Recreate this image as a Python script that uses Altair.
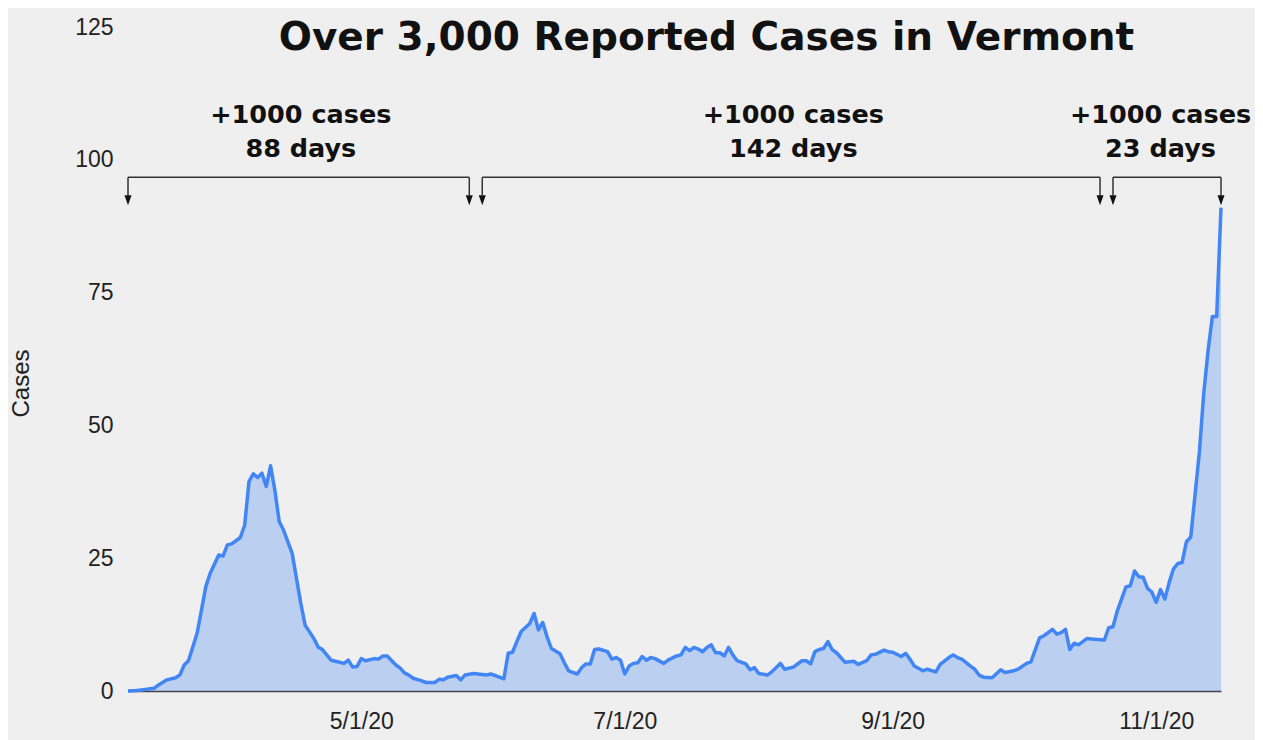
import altair as alt
import pandas as pd

# ---- data (daily reported cases, Vermont 2020) ----
dates = [
    "2020-03-08", "2020-03-10", "2020-03-12", "2020-03-14", "2020-03-15", "2020-03-17",
    "2020-03-19", "2020-03-20", "2020-03-21", "2020-03-22", "2020-03-23", "2020-03-24",
    "2020-03-25", "2020-03-26", "2020-03-27", "2020-03-29", "2020-03-30", "2020-03-31",
    "2020-04-01", "2020-04-03", "2020-04-04", "2020-04-05", "2020-04-06", "2020-04-07",
    "2020-04-08", "2020-04-09", "2020-04-10", "2020-04-11", "2020-04-12", "2020-04-13",
    "2020-04-15", "2020-04-16", "2020-04-17", "2020-04-18", "2020-04-20", "2020-04-21",
    "2020-04-22", "2020-04-24", "2020-04-26", "2020-04-27", "2020-04-28", "2020-04-29",
    "2020-04-30", "2020-05-01", "2020-05-02", "2020-05-04", "2020-05-05", "2020-05-06",
    "2020-05-07", "2020-05-09", "2020-05-10", "2020-05-11", "2020-05-12", "2020-05-13",
    "2020-05-15", "2020-05-16", "2020-05-18", "2020-05-19", "2020-05-20", "2020-05-21",
    "2020-05-23", "2020-05-24", "2020-05-25", "2020-05-27", "2020-05-28", "2020-05-30",
    "2020-05-31", "2020-06-02", "2020-06-03", "2020-06-04", "2020-06-05", "2020-06-06",
    "2020-06-07", "2020-06-09", "2020-06-10", "2020-06-11", "2020-06-12", "2020-06-13",
    "2020-06-14", "2020-06-16", "2020-06-17", "2020-06-18", "2020-06-20", "2020-06-21",
    "2020-06-22", "2020-06-23", "2020-06-24", "2020-06-25", "2020-06-27", "2020-06-28",
    "2020-06-29", "2020-06-30", "2020-07-01", "2020-07-02", "2020-07-03", "2020-07-04",
    "2020-07-05", "2020-07-06", "2020-07-07", "2020-07-08", "2020-07-10", "2020-07-11",
    "2020-07-13", "2020-07-14", "2020-07-15", "2020-07-16", "2020-07-17", "2020-07-18",
    "2020-07-19", "2020-07-20", "2020-07-21", "2020-07-22", "2020-07-23", "2020-07-24",
    "2020-07-25", "2020-07-26", "2020-07-27", "2020-07-29", "2020-07-30", "2020-07-31",
    "2020-08-01", "2020-08-03", "2020-08-04", "2020-08-06", "2020-08-07", "2020-08-09",
    "2020-08-11", "2020-08-12", "2020-08-13", "2020-08-14", "2020-08-15", "2020-08-16",
    "2020-08-17", "2020-08-18", "2020-08-19", "2020-08-21", "2020-08-23", "2020-08-24",
    "2020-08-26", "2020-08-27", "2020-08-28", "2020-08-30", "2020-08-31", "2020-09-01",
    "2020-09-03", "2020-09-04", "2020-09-05", "2020-09-06", "2020-09-08", "2020-09-09",
    "2020-09-11", "2020-09-12", "2020-09-14", "2020-09-15", "2020-09-16", "2020-09-17",
    "2020-09-19", "2020-09-20", "2020-09-21", "2020-09-22", "2020-09-24", "2020-09-26",
    "2020-09-27", "2020-09-29", "2020-09-30", "2020-10-02", "2020-10-03", "2020-10-05",
    "2020-10-06", "2020-10-08", "2020-10-09", "2020-10-10", "2020-10-11", "2020-10-12",
    "2020-10-13", "2020-10-14", "2020-10-16", "2020-10-17", "2020-10-20", "2020-10-21",
    "2020-10-22", "2020-10-23", "2020-10-25", "2020-10-26", "2020-10-27", "2020-10-28",
    "2020-10-29", "2020-10-30", "2020-10-31", "2020-11-01", "2020-11-02", "2020-11-03",
    "2020-11-04", "2020-11-05", "2020-11-06", "2020-11-07", "2020-11-08", "2020-11-09",
    "2020-11-10", "2020-11-11", "2020-11-12", "2020-11-13", "2020-11-14", "2020-11-15",
    "2020-11-16",
]
cases = [
    0.0, 0.1, 0.3, 0.5, 1.1, 2.1,
    2.5, 3.0, 4.9, 5.7, 8.3, 10.9,
    15.2, 19.6, 22.1, 25.6, 25.4, 27.5,
    27.7, 28.9, 31.2, 39.4, 40.9, 40.2,
    41.0, 38.5, 42.4, 37.8, 31.9, 30.3,
    25.9, 21.2, 16.5, 12.4, 9.9, 8.3,
    7.8, 5.8, 5.4, 5.2, 5.8, 4.5,
    4.6, 6.1, 5.7, 6.1, 6.0, 6.6,
    6.6, 4.9, 4.3, 3.4, 3.0, 2.4,
    1.9, 1.6, 1.6, 2.2, 2.1, 2.6,
    2.9, 2.1, 3.0, 3.3, 3.2, 3.0,
    3.2, 2.6, 2.3, 7.1, 7.3, 9.3,
    11.2, 12.7, 14.6, 11.5, 12.9, 10.2,
    8.0, 7.0, 5.3, 3.8, 3.2, 4.4,
    5.1, 5.1, 7.8, 7.9, 7.4, 6.0,
    6.3, 5.8, 3.2, 4.7, 5.2, 5.3,
    6.5, 5.8, 6.3, 6.1, 5.2, 5.8,
    6.6, 6.8, 8.2, 7.6, 8.2, 7.9,
    7.4, 8.2, 8.7, 7.2, 7.2, 6.6,
    8.2, 6.8, 5.7, 5.1, 4.0, 4.4,
    3.3, 3.0, 3.6, 5.2, 4.1, 4.5,
    5.7, 5.7, 5.1, 7.4, 7.8, 8.0,
    9.3, 7.8, 7.2, 5.4, 5.6, 5.0,
    5.7, 6.8, 6.9, 7.7, 7.4, 7.3,
    6.5, 7.1, 6.0, 4.7, 3.8, 4.1,
    3.6, 5.0, 6.3, 6.8, 6.3, 6.0,
    4.7, 4.1, 3.0, 2.6, 2.5, 4.0,
    3.5, 3.8, 4.1, 5.2, 5.5, 10.0,
    10.4, 11.6, 10.7, 11.0, 11.6, 7.8,
    9.0, 8.7, 9.9, 9.8, 9.6, 11.9,
    12.1, 15.1, 19.6, 19.8, 22.6, 21.5,
    21.4, 19.3, 18.6, 16.7, 19.1, 17.3,
    20.4, 23.0, 24.0, 24.2, 28.1, 29.0,
    37.0, 45.0, 56.0, 64.0, 70.5, 70.5,
    91.0,
]

x_tick_dates = ["2020-05-01", "2020-07-01", "2020-09-01", "2020-11-01"]
y_ticks = [0, 25, 50, 75, 100, 125]

# annotation brackets: "+1000 cases" spans
bracket_starts = ["2020-03-08", "2020-05-29", "2020-10-22"]
bracket_ends = ["2020-05-26", "2020-10-19", "2020-11-16"]
arrow_dates = ["2020-03-08", "2020-05-26", "2020-05-29", "2020-10-19", "2020-10-22", "2020-11-16"]
label_dates = ["2020-04-17", "2020-08-09", "2020-11-02"]
label_texts = ["+1000 cases\n88 days", "+1000 cases\n142 days", "+1000 cases\n23 days"]

BRACKET_Y = 96.7
STEM_END_Y = 93.3
ARROW_Y = 92.4
LABEL_Y = 106.9

df = pd.DataFrame({"date": dates, "cases": cases})
brackets = pd.DataFrame({"start": bracket_starts, "end": bracket_ends, "y": [BRACKET_Y] * 3})
arrows = pd.DataFrame({"date": arrow_dates, "y": [BRACKET_Y] * 6, "y2": [STEM_END_Y] * 6,
                       "tip": [ARROW_Y] * 6})
labels = pd.DataFrame({"date": label_dates, "text": label_texts, "y": [LABEL_Y] * 3})

x_scale = alt.Scale(domain=["2020-03-08", "2020-11-16"], nice=False)
y_scale = alt.Scale(domain=[0, 125], nice=False)

LABEL_FONT = "Liberation Sans"
BOLD_FONT = "DejaVu Sans"

x_axis = alt.Axis(
    values=x_tick_dates, format="%-m/%-d/%y", title=None, grid=False, ticks=False,
    labelFont=LABEL_FONT, labelFontSize=23, labelColor="#222", labelPadding=19,
    domain=True, domainColor="#444", domainWidth=1.5,
)
y_axis = alt.Axis(
    values=y_ticks, title="Cases", grid=False, ticks=False, domain=False,
    labelFont=LABEL_FONT, labelFontSize=23, labelColor="#222", labelPadding=15,
    titleFont=LABEL_FONT, titleFontSize=24, titleFontWeight="normal", titleColor="#222",
    titlePadding=41, titleY=356,
)

base = alt.Chart(df)

area = base.mark_area(color="#4285F4", opacity=0.3).encode(
    x=alt.X("date:T", scale=x_scale, axis=x_axis),
    y=alt.Y("cases:Q", scale=y_scale, axis=y_axis),
)
line = base.mark_line(color="#4285F4", strokeWidth=3.5, strokeJoin="round").encode(
    x=alt.X("date:T", scale=x_scale),
    y=alt.Y("cases:Q", scale=y_scale),
)

hrules = alt.Chart(brackets).mark_rule(color="#333", strokeWidth=1.5).encode(
    x=alt.X("start:T", scale=x_scale),
    x2="end:T",
    y=alt.Y("y:Q", scale=y_scale),
)
stems = alt.Chart(arrows).mark_rule(color="#333", strokeWidth=1.5).encode(
    x=alt.X("date:T", scale=x_scale),
    y=alt.Y("y:Q", scale=y_scale),
    y2="y2:Q",
)
heads = alt.Chart(arrows).mark_point(
    shape="M-0.7,-1L0.7,-1L0,1Z", filled=True, size=100, color="#111", opacity=1
).encode(
    x=alt.X("date:T", scale=x_scale),
    y=alt.Y("tip:Q", scale=y_scale),
)
texts = alt.Chart(labels).mark_text(
    font=BOLD_FONT, fontSize=25.5, fontWeight="bold", color="#111",
    align="center", baseline="alphabetic", lineBreak="\n", lineHeight=34,
).encode(
    x=alt.X("date:T", scale=x_scale),
    y=alt.Y("y:Q", scale=y_scale),
    text="text:N",
)

chart = alt.layer(area, line, hrules, stems, heads, texts).properties(
    width=1093,
    height=664,
    title=alt.TitleParams(
        text="Over 3,000 Reported Cases in Vermont",
        font=BOLD_FONT, fontSize=39, fontWeight="bold", color="#111",
        anchor="middle", frame="group", dx=32, offset=-73, baseline="alphabetic",
    ),
    autosize=alt.AutoSizeParams(type="none"),
    padding={"left": 120, "top": 19, "right": 34, "bottom": 49},
    background="#efefef",
).configure_view(stroke=None)

chart.save("out.html", embed_options={"renderer": "svg", "actions": False})
